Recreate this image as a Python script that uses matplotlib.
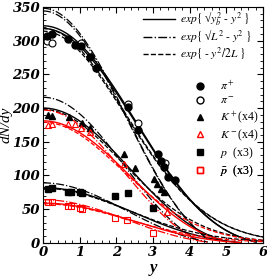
import numpy as np
import matplotlib
matplotlib.use("Agg")
import matplotlib.pyplot as plt
from matplotlib.lines import Line2D

plt.rcParams['font.family'] = ['Liberation Serif', 'DejaVu Serif']
plt.rcParams['mathtext.fontset'] = 'stix'

# ---------------- data ----------------
pip_y = [0.12, 0.25, 0.67, 0.87, 1.05, 1.27, 1.45, 2.31, 2.60, 3.13, 3.21, 3.31, 3.42, 3.59]
pip_v = [307, 310, 302, 293, 292, 275, 260, 201, 168, 132, 122, 113, 98, 94]
pim_y = [0.12, 0.25, 1.05, 2.31, 2.60, 3.33]
pim_v = [300, 297, 296, 206, 178, 119]
kp_y = [0.15, 0.25, 0.70, 1.06, 1.27, 2.21, 2.51, 3.03, 3.12, 3.21, 3.31]
kp_v = [190, 188, 186, 178, 170, 132, 111, 95, 88, 80, 75]
km_y = [0.15, 0.25, 0.67, 0.87, 1.05, 1.28, 2.21, 3.38]
km_v = [175, 177, 177, 176, 170, 164, 117, 46]
p_y = [0.15, 0.24, 0.67, 0.76, 1.02, 1.07, 1.97, 2.31, 3.00]
p_v = [80, 81, 76, 76, 75, 74, 69, 74, 51]
pb_y = [0.15, 0.25, 0.67, 0.76, 1.02, 1.07, 1.97, 2.29, 3.00]
pb_v = [60, 61, 54, 54, 51, 50, 37, 34, 14]

# fit-curve parameters per species: amplitude and width
species = ['pi+', 'pi-', 'K+', 'K-', 'p', 'pbar']
amp_yb = [322, 318, 200, 181, 82, 59]     # exp{sqrt(yb^2 - y^2)}
wid_yb = [5.8, 5.8, 5.0, 5.0, 5.4, 5.4]
amp_L = [348, 344, 216, 197, 89, 64]      # exp{sqrt(L^2 - y^2)}
wid_L = [4.5, 4.5, 4.2, 4.2, 4.5, 4.5]
amp_g = [318, 314, 198, 179, 81, 58]      # exp{-y^2/2L}
wid_g = [5.0, 5.0, 4.6, 4.6, 5.2, 5.2]
curve_col = ['black', 'black', 'black', 'red', 'black', 'red']

legend_lines = [r'$exp\{\ $√$y_b^{2}\ \text{-}\ y^2\ \}$',
                r'$exp\{\ $√$L^2\ \text{-}\ y^2\ \}$',
                r'$exp\{\ \text{-}\ y^2/2L\ \}$']
legend_marks = [r'$\pi^+$', r'$\pi^-$', r'$K^+$(x4)', r'$K^-$(x4)', r'$p$  (x3)', r'$\bar{p}$  (x3)']

# ---------------- figure ----------------
fig = plt.figure(figsize=(2.67, 2.76), dpi=100)
ax = fig.add_axes([0.161, 0.12, 0.824, 0.855])

ygrid = np.linspace(0, 6, 400)

def f_sqrt(A, w, y):
    out = np.full_like(y, np.nan)
    m = y <= w
    out[m] = A * np.exp(np.sqrt(w**2 - y[m]**2) - w)
    return out

def f_gauss(A, s2, y):
    return A * np.exp(-y**2 / (2 * s2))

for i in range(len(species)):
    c = curve_col[i]
    ax.plot(ygrid, f_sqrt(amp_yb[i], wid_yb[i], ygrid), '-', color=c, lw=1.0)
    ax.plot(ygrid, f_sqrt(amp_L[i], wid_L[i], ygrid), '-.', color=c, lw=0.9)
    ax.plot(ygrid, f_gauss(amp_g[i], wid_g[i], ygrid), '--', color=c, lw=0.9)

ms = 5
ax.plot(pim_y, pim_v, 'o', mfc='white', mec='black', ms=ms, mew=0.8, ls='none')
ax.plot(pip_y, pip_v, 'o', color='black', ms=ms, ls='none')
ax.plot(kp_y, kp_v, '^', color='black', ms=ms, ls='none')
ax.plot(km_y, km_v, '^', mfc='none', mec='red', ms=ms, mew=0.8, ls='none')
ax.plot(p_y, p_v, 's', color='black', ms=ms - 0.7, ls='none')
ax.plot(pb_y, pb_v, 's', mfc='none', mec='red', ms=ms - 0.7, mew=0.8, ls='none')

ax.set_xlim(0, 6)
ax.set_ylim(0, 350)
ax.set_xticks(np.arange(0, 7, 1))
ax.set_yticks(np.arange(0, 351, 50))
ax.set_xticks(np.arange(0, 6.01, 0.2), minor=True)
ax.set_yticks(np.arange(0, 351, 10), minor=True)
ax.tick_params(which='both', direction='in', top=True, right=True, pad=2)
ax.tick_params(which='major', length=4, width=0.8)
ax.tick_params(which='minor', length=2, width=0.6)
for lab in ax.get_xticklabels() + ax.get_yticklabels():
    lab.set_fontfamily('DejaVu Serif')
    lab.set_fontweight('bold')
    lab.set_fontstyle('italic')
    lab.set_fontsize(9.5)
for s in ax.spines.values():
    s.set_linewidth(0.8)

ax.set_xlabel('y', fontsize=12, fontweight='bold', fontstyle='italic', labelpad=1)
ax.set_ylabel('dN/dy', fontsize=11, fontstyle='italic', labelpad=0)

# legend for the fit functions: one entry per row
line_styles = ['-', '-.', '--']
line_rows = [0.948, 0.872, 0.800]
for st, lab, yr in zip(line_styles, legend_lines, line_rows):
    h = Line2D([], [], color='black', ls=st, lw=1.0)
    lg = ax.legend([h], [lab], loc='center left', bbox_to_anchor=(0.455, yr),
                   frameon=False, fontsize=8.3, handlelength=2.75,
                   handletextpad=0.45, borderaxespad=0.0, borderpad=0.0)
    ax.add_artist(lg)

# legend for the data markers: one entry per row
mark_handles = [Line2D([], [], marker='o', color='black', ls='none', ms=ms),
                Line2D([], [], marker='o', mfc='white', mec='black', ls='none', ms=ms),
                Line2D([], [], marker='^', color='black', ls='none', ms=ms),
                Line2D([], [], marker='^', mfc='none', mec='red', ls='none', ms=ms),
                Line2D([], [], marker='s', color='black', ls='none', ms=ms - 0.7),
                Line2D([], [], marker='s', mfc='none', mec='red', ls='none', ms=ms - 0.7)]
mark_rows = [0.665, 0.600, 0.528, 0.456, 0.381, 0.305]
for h, lab, yr in zip(mark_handles, legend_marks, mark_rows):
    lg = ax.legend([h], [lab], loc='center left', bbox_to_anchor=(0.685, yr),
                   frameon=False, fontsize=8.5, handlelength=1.05,
                   handletextpad=1.15, borderaxespad=0.0, borderpad=0.0)
    ax.add_artist(lg)

fig.savefig('out.png', dpi=100)
